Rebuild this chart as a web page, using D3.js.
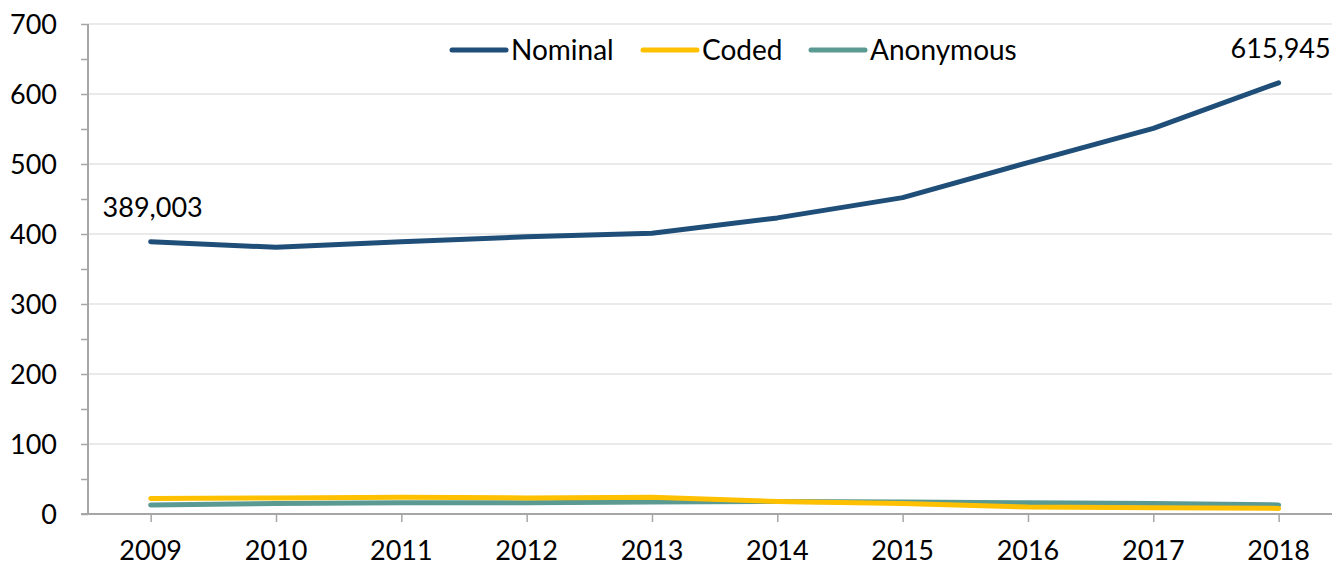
<!DOCTYPE html>
<html>
<head>
<meta charset="utf-8">
<script src="https://cdn.jsdelivr.net/npm/d3@7"></script>
<style>
  body { margin: 0; background: #fff; }
  svg text { font-family: "Lato", "Open Sans", sans-serif; fill: #000; }
</style>
</head>
<body>
<svg id="chart" width="1332" height="567"></svg>
<script>
// values in thousands
const years = ["2009", "2010", "2011", "2012", "2013", "2014", "2015", "2016", "2017", "2018"];
const nominal = [389, 381, 389, 396, 401, 423, 452, 502, 551, 616];
const coded = [22, 23, 24, 23, 24, 18, 15, 10, 9, 8];
const anonymous = [13, 15, 16, 16, 17, 18, 17, 16, 15, 13];
const yTicks = [0, 100, 200, 300, 400, 500, 600, 700];
const endLabels = [{ i: 0, text: "389,003" }, { i: 9, text: "615,945" }];

const series = [
    { name: "Nominal", values: nominal, color: "#1F4E79" },
    { name: "Coded", values: coded, color: "#FFC000" },
    { name: "Anonymous", values: anonymous, color: "#5B9A92" }
];

const svg = d3.select("#chart");
const margin = { left: 88, top: 24, bottom: 53 };
const width = 1332, height = 567;

const x = d3.scalePoint().domain(years).range([margin.left, 1341.3]).padding(0.5);
const y = d3.scaleLinear().domain([0, 700]).range([height - margin.bottom, margin.top]);

// gridlines
svg.append("g").selectAll("line").data(yTicks.slice(1)).enter().append("line")
    .attr("x1", margin.left).attr("x2", width).attr("y1", d => y(d)).attr("y2", d => y(d))
    .attr("stroke", "#e3e3e3").attr("stroke-width", 1.5);

// y axis with minor ticks every 50
const yAxis = svg.append("g").attr("transform", `translate(${margin.left},0)`)
    .call(d3.axisLeft(y).tickValues(d3.range(0, 701, 50)).tickSize(7).tickFormat(""));
yAxis.select(".domain").remove();
yAxis.selectAll("line").attr("stroke", "#a6a6a6").attr("stroke-width", 1.5);
svg.append("line").attr("x1", margin.left).attr("x2", margin.left).attr("y1", y(700)).attr("y2", y(0))
    .attr("stroke", "#a6a6a6").attr("stroke-width", 2);
svg.append("g").selectAll("text").data(yTicks).enter().append("text")
    .attr("x", 57).attr("y", d => y(d)).attr("dy", "0.36em").attr("text-anchor", "end")
    .style("font-size", "27px").text(d => d);

// x axis
const xAxis = svg.append("g").attr("transform", `translate(0,${y(0)})`)
    .call(d3.axisBottom(x).tickSize(8).tickFormat(""));
xAxis.select(".domain").remove();
xAxis.selectAll("line").attr("stroke", "#a6a6a6").attr("stroke-width", 1.5);
svg.append("line").attr("x1", margin.left - 7).attr("x2", width).attr("y1", y(0)).attr("y2", y(0))
    .attr("stroke", "#a6a6a6").attr("stroke-width", 2);
svg.append("g").selectAll("text").data(years).enter().append("text")
    .attr("x", d => x(d)).attr("y", 560).attr("text-anchor", "middle")
    .style("font-size", "27px").text(d => d);

// lines (nominal drawn last so it sits on top)
const line = d3.line().x((d, i) => x(years[i])).y(d => y(d));
svg.append("g").selectAll("path").data(series.slice().reverse()).enter().append("path")
    .attr("d", d => line(d.values)).attr("fill", "none").attr("stroke", d => d.color)
    .attr("stroke-width", 5).attr("stroke-linecap", "round").attr("stroke-linejoin", "round");

// end labels
svg.append("g").selectAll("text").data(endLabels).enter().append("text")
    .attr("x", d => x(years[d.i]) + 2).attr("y", d => y(nominal[d.i]) - 25).attr("text-anchor", "middle")
    .style("font-size", "27px").text(d => d.text);

// legend
const legendX = [452, 643, 811];
const legend = svg.append("g").selectAll("g").data(series).enter().append("g")
    .attr("transform", (d, i) => `translate(${legendX[i]},50)`);
legend.append("line").attr("x1", 0).attr("x2", 54).attr("stroke", d => d.color)
    .attr("stroke-width", 5).attr("stroke-linecap", "round");
legend.append("text").attr("x", 59).attr("dy", "0.36em").style("font-size", "28px").text(d => d.name);
</script>
</body>
</html>
